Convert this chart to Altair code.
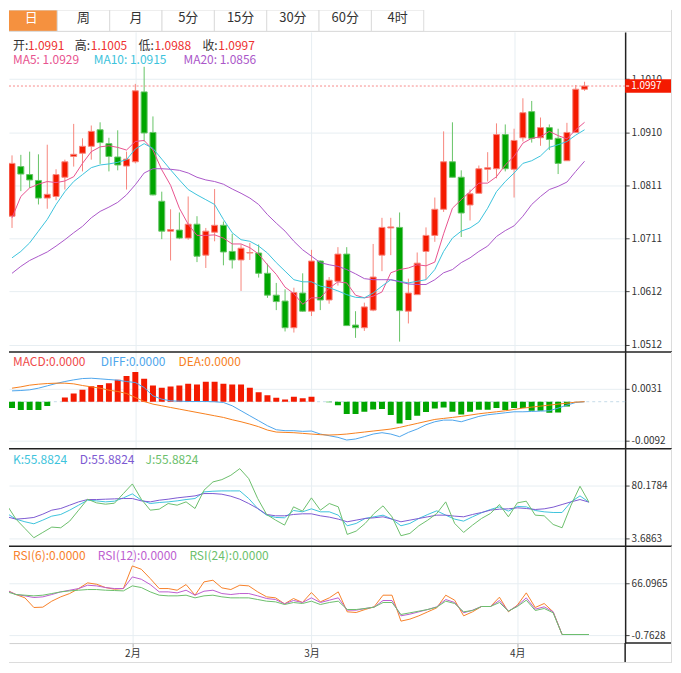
import altair as alt
import pandas as pd

FONT = "Noto Sans CJK SC"

# ---------------- data ----------------
tabs = ["日", "周", "月", "5分", "15分", "30分", "60分", "4时"]
active_tab = "日"

opens = [1.0753, 1.0846, 1.0831, 1.0820, 1.0787, 1.0790, 1.0826, 1.0865, 1.0871, 1.0884,
         1.0915, 1.0889, 1.0864, 1.0847, 1.0855, 1.0986, 1.0910, 1.0781, 1.0725, 1.0727,
         1.0712, 1.0738, 1.0680, 1.0723, 1.0736, 1.0687, 1.0671, 1.0684, 1.0684, 1.0646,
         1.0605, 1.0594, 1.0544, 1.0609, 1.0575, 1.0669, 1.0596, 1.0631, 1.0682, 1.0549,
         1.0544, 1.0577, 1.0680, 1.0731, 1.0732, 1.0575, 1.0606, 1.0687, 1.0717, 1.0766,
         1.0855, 1.0826, 1.0774, 1.0796, 1.0841, 1.0842, 1.0906, 1.0841, 1.0900, 1.0949,
         1.0900, 1.0919, 1.0899, 1.0857, 1.0910, 1.0991]
highs = [1.0867, 1.0868, 1.0874, 1.0869, 1.0887, 1.0841, 1.0859, 1.0926, 1.0899, 1.0923,
         1.0929, 1.0900, 1.0914, 1.0874, 1.1001, 1.1033, 1.0940, 1.0799, 1.0766, 1.0760,
         1.0790, 1.0753, 1.0731, 1.0804, 1.0743, 1.0720, 1.0700, 1.0703, 1.0700, 1.0664,
         1.0628, 1.0616, 1.0619, 1.0646, 1.0690, 1.0670, 1.0639, 1.0695, 1.0695, 1.0575,
         1.0591, 1.0701, 1.0750, 1.0750, 1.0760, 1.0636, 1.0685, 1.0732, 1.0788, 1.0912,
         1.0929, 1.0839, 1.0803, 1.0848, 1.0873, 1.0927, 1.0925, 1.0917, 1.0974, 1.0969,
         1.0938, 1.0925, 1.0917, 1.0928, 1.0999, 1.1005]
lows = [1.0731, 1.0800, 1.0806, 1.0775, 1.0767, 1.0783, 1.0803, 1.0846, 1.0837, 1.0859,
        1.0851, 1.0837, 1.0839, 1.0803, 1.0852, 1.0893, 1.0792, 1.0710, 1.0670, 1.0710,
        1.0709, 1.0667, 1.0656, 1.0706, 1.0661, 1.0655, 1.0613, 1.0671, 1.0638, 1.0600,
        1.0577, 1.0537, 1.0535, 1.0574, 1.0566, 1.0577, 1.0589, 1.0623, 1.0548, 1.0525,
        1.0538, 1.0575, 1.0650, 1.0680, 1.0518, 1.0552, 1.0606, 1.0634, 1.0705, 1.0761,
        1.0826, 1.0714, 1.0745, 1.0796, 1.0818, 1.0824, 1.0837, 1.0788, 1.0893, 1.0891,
        1.0885, 1.0877, 1.0832, 1.0857, 1.0910, 1.0988]
closes = [1.0852, 1.0832, 1.0821, 1.0787, 1.0794, 1.0831, 1.0855, 1.0869, 1.0884, 1.0912,
          1.0891, 1.0865, 1.0849, 1.0860, 1.0988, 1.0909, 1.0793, 1.0725, 1.0728, 1.0712,
          1.0738, 1.0678, 1.0725, 1.0736, 1.0686, 1.0671, 1.0693, 1.0685, 1.0646, 1.0605,
          1.0593, 1.0544, 1.0610, 1.0575, 1.0669, 1.0596, 1.0633, 1.0682, 1.0548, 1.0544,
          1.0583, 1.0639, 1.0732, 1.0733, 1.0576, 1.0609, 1.0665, 1.0717, 1.0766, 1.0855,
          1.0826, 1.0759, 1.0795, 1.0842, 1.0844, 1.0906, 1.0842, 1.0895, 1.0947, 1.0899,
          1.0919, 1.0897, 1.0852, 1.0910, 1.0991, 1.0997]

ma5 = [1.0750, 1.0790, 1.0806, 1.0813, 1.0818, 1.0816, 1.0819, 1.0827, 1.0852, 1.0874,
       1.0883, 1.0885, 1.0882, 1.0877, 1.0893, 1.0895, 1.0877, 1.0840, 1.0811, 1.0768,
       1.0738, 1.0717, 1.0717, 1.0718, 1.0712, 1.0701, 1.0701, 1.0694, 1.0682, 1.0662,
       1.0644, 1.0620, 1.0608, 1.0588, 1.0600, 1.0600, 1.0618, 1.0630, 1.0628, 1.0605,
       1.0600, 1.0603, 1.0611, 1.0647, 1.0653, 1.0656, 1.0662, 1.0660, 1.0667, 1.0720,
       1.0768, 1.0784, 1.0799, 1.0815, 1.0815, 1.0827, 1.0849, 1.0865, 1.0890, 1.0899,
       1.0902, 1.0912, 1.0904, 1.0898, 1.0915, 1.0929]
ma10 = [1.0675, 1.0687, 1.0703, 1.0725, 1.0747, 1.0775, 1.0799, 1.0818, 1.0831, 1.0844,
        1.0849, 1.0851, 1.0854, 1.0859, 1.0879, 1.0889, 1.0880, 1.0860, 1.0840, 1.0821,
        1.0803, 1.0793, 1.0784, 1.0775, 1.0747, 1.0722, 1.0709, 1.0706, 1.0697, 1.0684,
        1.0666, 1.0650, 1.0634, 1.0630, 1.0630, 1.0622, 1.0619, 1.0613, 1.0606, 1.0601,
        1.0600, 1.0609, 1.0622, 1.0634, 1.0631, 1.0628, 1.0631, 1.0634, 1.0653, 1.0687,
        1.0712, 1.0725, 1.0731, 1.0742, 1.0768, 1.0799, 1.0818, 1.0834, 1.0852, 1.0857,
        1.0866, 1.0882, 1.0887, 1.0893, 1.0905, 1.0915]
ma20 = [1.0646, 1.0659, 1.0670, 1.0678, 1.0686, 1.0697, 1.0709, 1.0722, 1.0734, 1.0750,
        1.0762, 1.0770, 1.0779, 1.0793, 1.0812, 1.0834, 1.0842, 1.0842, 1.0841, 1.0839,
        1.0834, 1.0826, 1.0821, 1.0818, 1.0813, 1.0804, 1.0796, 1.0787, 1.0775, 1.0756,
        1.0740, 1.0725, 1.0706, 1.0690, 1.0678, 1.0666, 1.0662, 1.0659, 1.0653, 1.0645,
        1.0636, 1.0634, 1.0634, 1.0634, 1.0630, 1.0626, 1.0625, 1.0625, 1.0634, 1.0647,
        1.0653, 1.0666, 1.0675, 1.0687, 1.0697, 1.0715, 1.0726, 1.0735, 1.0753, 1.0775,
        1.0790, 1.0803, 1.0809, 1.0817, 1.0837, 1.0856]

macd_hist = [-0.00151, -0.00198, -0.00198, -0.00198, -0.00104, 0.0, 0.00100, 0.00194, 0.00280, 0.00366,
             0.00397, 0.00437, 0.00515, 0.00609, 0.00703, 0.00539, 0.00382, 0.00327, 0.00358, 0.00382,
             0.00421, 0.00405, 0.00468, 0.00468, 0.00421, 0.00405, 0.00405, 0.00327, 0.00225, 0.00154,
             0.00092, 0.00053, 0.00115, 0.00084, 0.00115, 0.0, -0.00010, -0.00081, -0.00292, -0.00292,
             -0.00238, -0.00183, -0.00175, -0.00316, -0.00512, -0.00434, -0.00332, -0.00245, -0.00159, -0.00136,
             -0.00238, -0.00300, -0.00238, -0.00190, -0.00190, -0.00151, -0.00198, -0.00151, -0.00151, -0.00214,
             -0.00214, -0.00261, -0.00253, -0.00112, 0.0, 0.0]
diff_vals = [0.00256, 0.00264, 0.00280, 0.00319, 0.00374, 0.00429, 0.00476, 0.00515, 0.00546, 0.00554,
             0.00539, 0.00523, 0.00507, 0.00476, 0.00452, 0.00335, 0.00139, 0.00060, 0.00021, 0.00013,
             0.00005, 0.00005, 0.00005, -0.00002, -0.00018, -0.00096, -0.00214, -0.00332, -0.00449, -0.00567,
             -0.00661, -0.00684, -0.00684, -0.00700, -0.00692, -0.00763, -0.00802, -0.00841, -0.00904, -0.00880,
             -0.00825, -0.00763, -0.00731, -0.00763, -0.00825, -0.00724, -0.00645, -0.00543, -0.00473, -0.00434,
             -0.00434, -0.00473, -0.00410, -0.00347, -0.00308, -0.00285, -0.00261, -0.00238, -0.00238, -0.00230,
             -0.00222, -0.00214, -0.00151, -0.00081, -0.00018, 0.0]
dea_vals = [0.00319, 0.00350, 0.00390, 0.00413, 0.00429, 0.00437, 0.00437, 0.00421, 0.00382, 0.00350,
            0.00319, 0.00272, 0.00241, 0.00194, 0.00100, 0.00005, -0.00057, -0.00096, -0.00136, -0.00175,
            -0.00214, -0.00253, -0.00292, -0.00332, -0.00371, -0.00426, -0.00473, -0.00528, -0.00590, -0.00669,
            -0.00716, -0.00724, -0.00731, -0.00747, -0.00763, -0.00778, -0.00786, -0.00778, -0.00763, -0.00739,
            -0.00716, -0.00692, -0.00669, -0.00645, -0.00606, -0.00559, -0.00512, -0.00465, -0.00418, -0.00394,
            -0.00371, -0.00347, -0.00316, -0.00285, -0.00261, -0.00238, -0.00214, -0.00183, -0.00151, -0.00128,
            -0.00104, -0.00081, -0.00057, -0.00034, -0.00010, 0.0]

k_vals = [39.54, 31.41, 27.59, 24.72, 29.98, 35.72, 38.11, 44.32, 51.49, 58.67,
          57.71, 56.27, 57.23, 62.01, 67.75, 58.67, 53.88, 55.32, 56.27, 57.71,
          59.62, 61.05, 70.62, 71.58, 72.05, 72.05, 72.05, 61.05, 46.71, 37.15,
          33.81, 33.33, 43.84, 41.93, 46.24, 41.93, 41.93, 37.15, 21.85, 25.20,
          32.37, 34.76, 37.15, 31.41, 21.85, 25.20, 32.37, 38.11, 43.37, 37.15,
          31.41, 28.54, 34.76, 40.50, 45.28, 49.11, 42.89, 49.58, 49.11, 43.84,
          41.93, 40.97, 40.97, 56.27, 64.88, 55.88]
d_vals = [34.76, 31.41, 32.37, 33.81, 38.59, 44.32, 46.71, 51.49, 56.27, 59.62,
          59.62, 60.10, 60.58, 61.05, 61.05, 57.71, 56.27, 58.67, 60.10, 62.01,
          63.44, 64.88, 68.22, 68.22, 67.27, 64.40, 60.10, 53.88, 46.71, 38.11,
          36.20, 36.20, 38.11, 39.06, 39.06, 36.20, 34.28, 31.41, 27.59, 29.98,
          32.37, 33.33, 34.76, 31.41, 27.59, 29.98, 32.37, 34.76, 37.15, 37.15,
          35.72, 34.76, 38.11, 40.97, 44.32, 45.76, 46.24, 47.67, 46.71, 45.28,
          46.24, 48.63, 52.46, 56.27, 59.62, 55.88]
j_vals = [51.49, 31.41, 18.03, 4.64, 12.29, 19.94, 18.98, 28.54, 44.32, 60.10,
          54.84, 52.93, 54.36, 68.22, 82.09, 60.10, 44.32, 45.76, 53.88, 51.49,
          56.27, 46.71, 73.01, 84.96, 88.30, 94.55, 104.08, 89.74, 61.05, 38.11,
          29.98, 22.81, 49.11, 42.89, 62.01, 44.32, 53.88, 49.11, 9.42, 14.20,
          25.20, 39.54, 50.54, 34.76, 7.51, 10.86, 21.85, 29.98, 39.54, 56.27,
          25.20, 12.29, 22.81, 32.37, 39.54, 52.46, 34.76, 54.84, 57.23, 37.15,
          36.20, 23.77, 18.98, 51.49, 78.74, 55.88]

rsi6 = [57.47, 51.86, 47.55, 35.04, 35.47, 43.23, 48.84, 53.15, 59.62, 66.96,
        65.23, 60.92, 58.76, 59.62, 88.96, 84.64, 72.57, 59.62, 59.62, 57.47,
        64.80, 51.00, 68.25, 70.41, 60.49, 58.33, 63.94, 63.08, 55.31, 48.84,
        47.55, 39.78, 46.68, 41.51, 54.45, 42.37, 47.55, 55.31, 29.43, 28.57,
        32.45, 35.90, 51.00, 51.00, 17.35, 19.94, 24.25, 29.43, 34.61, 51.00,
        44.53, 24.25, 29.43, 36.33, 36.33, 48.41, 29.43, 38.06, 54.02, 35.04,
        40.21, 29.43, 0.0, 0.0, 0.0, 0.0]
rsi12 = [57.04, 51.86, 50.14, 47.98, 48.84, 51.86, 55.31, 57.47, 59.62, 63.94,
         63.08, 60.92, 59.62, 59.62, 74.72, 71.70, 64.80, 55.31, 55.31, 54.02,
         57.47, 51.00, 56.17, 57.47, 53.15, 51.86, 53.15, 53.15, 50.14, 46.68,
         45.39, 39.78, 44.10, 41.51, 47.55, 41.51, 44.53, 47.55, 31.59, 31.59,
         33.74, 35.47, 44.10, 44.10, 24.25, 26.41, 29.43, 32.45, 35.90, 45.39,
         41.51, 28.14, 31.59, 36.33, 36.33, 44.10, 30.29, 37.19, 47.55, 32.88,
         35.90, 29.43, 0.0, 0.0, 0.0, 0.0]
rsi24 = [55.31, 51.86, 51.00, 50.14, 51.00, 53.15, 55.31, 56.60, 57.47, 58.33,
         58.33, 57.47, 57.04, 56.60, 63.08, 60.92, 55.31, 51.00, 50.14, 50.14,
         51.00, 47.55, 50.14, 51.00, 48.84, 47.55, 47.55, 47.55, 45.39, 43.23,
         42.37, 38.92, 41.51, 40.21, 43.23, 38.92, 41.51, 43.23, 32.45, 32.45,
         33.74, 35.47, 41.51, 41.51, 25.98, 28.14, 30.29, 32.45, 35.47, 43.23,
         40.21, 29.43, 31.15, 36.33, 36.33, 41.51, 30.29, 36.33, 44.53, 31.15,
         33.74, 28.14, 0.0, 0.0, 0.0, 0.0]

month_idx = [14, 34, 57]
month_labels = ["2月", "3月", "4月"]
price_ticks = [1.1010, 1.0910, 1.0811, 1.0711, 1.0612, 1.0512]
macd_ticks = [0.0031, -0.0092]
kdj_ticks = [80.1784, 3.6863]
rsi_ticks = [66.0965, -0.7628]

ohlc_labels = ["开:", "高:", "低:", "收:"]
ohlc_values = ["1.0991", "1.1005", "1.0988", "1.0997"]
last_price = 1.0997
ma_names = ["MA5", "MA10", "MA20"]
ma_last = ["1.0929", "1.0915", "1.0856"]
macd_names = ["MACD", "DIFF", "DEA"]
macd_last = ["0.0000", "0.0000", "0.0000"]
kdj_names = ["K", "D", "J"]
kdj_last = ["55.8824", "55.8824", "55.8824"]
rsi_names = ["RSI(6)", "RSI(12)", "RSI(24)"]
rsi_last = ["0.0000", "0.0000", "0.0000"]

# ---------------- styles / layout ----------------
UP, DN = "#f41a00", "#00a600"
UP_L, DN_L = "#f7867c", "#66c466"
RED_T = "#ee3030"
MA_COLORS = ["#e8538f", "#3cc3dc", "#ab57c9"]
MACD_COLORS = ["#ef4a4a", "#4ea6ec", "#f77f1d"]
KDJ_COLORS = ["#3ec4dc", "#7d5ad2", "#6cbf6c"]
RSI_COLORS = ["#f7812a", "#bd5ed0", "#6cbf6c"]
GRID = "#e7eef2"
BORDER = "#dcdcdc"
DARK = "#222222"
W = 618            # plot width
RIGHT = 665        # whole chart width
H_TAB, H_MAIN, H_MACD, H_KDJ, H_RSI = 22, 321, 97, 98, 97
STEP = 8.98
X_DOMAIN = [2 / STEP, 2 / STEP + W / STEP]
HFS = 12

n = len(closes)
idx = list(range(n))


def txt(s, x, y, color, size=HFS):
    return alt.Chart(pd.DataFrame({"t": [s]})).mark_text(
        align="left", baseline="middle", font=FONT, fontSize=size, color=color
    ).encode(x=alt.value(x), y=alt.value(y), text="t:N")


def rule(x, x2, y, y2, color, width=1.0):
    return alt.Chart(pd.DataFrame({"a": [0]})).mark_rule(color=color, strokeWidth=width).encode(
        x=alt.value(x), x2=alt.value(x2), y=alt.value(y), y2=alt.value(y2))


def xenc(bottom=False):
    if bottom:
        parts = [f"datum.value == {v} ? '{t}'" for v, t in zip(month_idx, month_labels)]
        expr = " : ".join(parts) + " : ''"
        axis = alt.Axis(values=month_idx, labelExpr=expr, grid=True, gridColor=GRID,
                        ticks=True, tickColor="#aaaaaa", tickSize=4, domainColor="#cfcfcf",
                        labelFontSize=10, labelColor="#333333", labelFont=FONT,
                        labelPadding=1, title=None)
    else:
        axis = alt.Axis(values=month_idx, grid=True, gridColor=GRID, labels=False,
                        ticks=False, domain=False, title=None)
    return alt.X("i:Q", scale=alt.Scale(domain=X_DOMAIN, nice=False, zero=False), axis=axis)


def yaxis(values):
    return alt.Axis(orient="right", values=values, grid=True, gridColor=GRID,
                    labelExpr="replace(format(datum.value, '.4f'), '\u2212', '-')",
                    tickColor="#444444", tickSize=4, domainColor=DARK, domainWidth=1.5,
                    labelFontSize=10, labelColor="#333333", labelFont=FONT,
                    labelPadding=2, title=None)


def right_border(h):
    return rule(RIGHT - 0.5, RIGHT - 0.5, 0, h, BORDER)


def header_row(names, values, xs, colors, y, sep=":"):
    return [txt(f"{nm}{sep}{v}", x, y, c) for nm, v, x, c in zip(names, values, xs, colors)]


def series_df(names, arrays):
    rows = {"i": [], "v": [], "s": []}
    for nm, arr in zip(names, arrays):
        rows["i"] += idx
        rows["v"] += list(arr)
        rows["s"] += [nm] * n
    return pd.DataFrame(rows)


# ---------------- tabs ----------------
tab_df = pd.DataFrame({"tab": tabs, "state": ["on" if t == active_tab else "off" for t in tabs]})
tx = alt.X("tab:N", sort=tabs,
           scale=alt.Scale(domain=tabs, range=[-4, 416], paddingInner=0, paddingOuter=0), axis=None)
tab_rect = alt.Chart(tab_df).mark_rect(stroke=BORDER, strokeWidth=1, clip=True).encode(
    x=tx, y=alt.value(0), y2=alt.value(H_TAB - 0.5),
    fill=alt.Fill("state:N", scale=alt.Scale(domain=["on", "off"], range=["#f5913f", "#ffffff"]), legend=None))
tab_text = alt.Chart(tab_df).mark_text(font=FONT, fontSize=13, baseline="middle").encode(
    x=tx, y=alt.value(8.5), text="tab:N",
    color=alt.Color("state:N", scale=alt.Scale(domain=["on", "off"], range=["#ffffff", "#333333"]), legend=None))
tabs_chart = alt.layer(
    tab_rect, tab_text,
    rule(0, RIGHT - 0.5, H_TAB - 0.5, H_TAB - 0.5, BORDER),
    right_border(H_TAB),
).properties(width=420, height=H_TAB).resolve_scale(color="independent", fill="independent")

# ---------------- main (candles) ----------------
YMAIN = alt.Scale(domain=[1.04986, 1.10984], nice=False, zero=False)
AX_MAIN = yaxis(price_ticks)


def ymain(f):
    return alt.Y(f, scale=YMAIN, axis=AX_MAIN)


cdf = pd.DataFrame({"i": idx, "open": opens, "high": highs, "low": lows, "close": closes})
cdf["dir"] = ["up" if c >= o else "down" for o, c in zip(opens, closes)]
stroke_scale = alt.Scale(domain=["up", "down"], range=[UP_L, DN_L])
wick = alt.Chart(cdf).mark_rule(strokeWidth=1, clip=True).encode(
    x=xenc(), y=ymain("low:Q"), y2="high:Q",
    stroke=alt.Stroke("dir:N", scale=stroke_scale, legend=None))
body = alt.Chart(cdf).mark_bar(width=6, strokeWidth=1, clip=True).encode(
    x=xenc(), y=ymain("open:Q"), y2="close:Q",
    fill=alt.Fill("dir:N", scale=alt.Scale(domain=["up", "down"], range=[UP, DN]), legend=None),
    stroke=alt.Stroke("dir:N", scale=stroke_scale, legend=None))
ma_lines = alt.Chart(series_df(ma_names, [ma5, ma10, ma20])).mark_line(strokeWidth=1, clip=True).encode(
    x=xenc(), y=ymain("v:Q"),
    color=alt.Color("s:N", scale=alt.Scale(domain=ma_names, range=MA_COLORS), legend=None))
lp_df = pd.DataFrame({"p": [last_price]})
price_line = alt.Chart(lp_df).mark_rule(strokeDash=[2, 2], color="#f88a8a", strokeWidth=1).encode(y=ymain("p:Q"))
label_box = alt.Chart(lp_df).transform_calculate(top="datum.p + 0.00125", bot="datum.p - 0.00125").mark_rect(
    color=UP).encode(x=alt.value(W), x2=alt.value(RIGHT - 1), y=ymain("top:Q"), y2="bot:Q")
label_tick = alt.Chart(lp_df).mark_rule(color="#ffffff", strokeWidth=1).encode(
    x=alt.value(W + 1), x2=alt.value(W + 4), y=ymain("p:Q"))
label_text = alt.Chart(lp_df).mark_text(align="left", baseline="middle", font=FONT, fontSize=10,
                                        color="#ffffff").encode(
    x=alt.value(W + 6), y=ymain("p:Q"), text=alt.Text("p:Q", format=".4f"))

main_headers = []
for lab, val, lx, vx in zip(ohlc_labels, ohlc_values, [4, 66, 130, 194], [19, 82, 146, 210]):
    main_headers += [txt(lab, lx, 14, "#333333"), txt(val, vx, 14, RED_T)]
main_headers += header_row(ma_names, ma_last, [4, 85, 175], MA_COLORS, 28, sep=": ")

main_chart = alt.layer(
    wick, body, ma_lines, price_line, label_box, label_tick, label_text,
    *main_headers, right_border(H_MAIN)
).properties(width=W, height=H_MAIN).resolve_scale(color="independent", fill="independent",
                                                   stroke="independent")

# ---------------- MACD ----------------
YMACD = alt.Scale(domain=[-0.011077, 0.011736], nice=False, zero=False)
AX_MACD = yaxis(macd_ticks)


def ymacd(f):
    return alt.Y(f, scale=YMACD, axis=AX_MACD)


mdf = pd.DataFrame({"i": idx, "h": macd_hist})
mdf["sign"] = ["pos" if h > 0 else "neg" for h in macd_hist]
hist = alt.Chart(mdf).transform_filter("datum.h != 0").transform_calculate(zero="0").mark_bar(
    width=6, clip=True).encode(
    x=xenc(), y=ymacd("h:Q"), y2="zero:Q",
    fill=alt.Fill("sign:N", scale=alt.Scale(domain=["pos", "neg"], range=[UP, DN]), legend=None))
zero_line = alt.Chart(pd.DataFrame({"z": [0.0]})).mark_rule(strokeDash=[3, 3], color="#c5dbe8").encode(
    y=ymacd("z:Q"))
macd_lines = alt.Chart(series_df(["DIFF", "DEA"], [diff_vals, dea_vals])).mark_line(
    strokeWidth=1, clip=True).encode(
    x=xenc(), y=ymacd("v:Q"),
    stroke=alt.Stroke("s:N", scale=alt.Scale(domain=["DIFF", "DEA"], range=MACD_COLORS[1:]), legend=None))
macd_chart = alt.layer(
    zero_line, hist, macd_lines,
    *header_row(macd_names, macd_last, [4, 92, 170], MACD_COLORS, 10),
    rule(0, RIGHT, 0, 0, DARK, 1.5), right_border(H_MACD)
).properties(width=W, height=H_MACD).resolve_scale(fill="independent", stroke="independent")

# ---------------- KDJ ----------------
YKDJ = alt.Scale(domain=[-7.80, 132.85], nice=False, zero=False)
kdj_lines = alt.Chart(series_df(kdj_names, [k_vals, d_vals, j_vals])).mark_line(
    strokeWidth=1, clip=True).encode(
    x=xenc(), y=alt.Y("v:Q", scale=YKDJ, axis=yaxis(kdj_ticks)),
    stroke=alt.Stroke("s:N", scale=alt.Scale(domain=kdj_names, range=KDJ_COLORS), legend=None))
kdj_chart = alt.layer(
    kdj_lines,
    *header_row(kdj_names, kdj_last, [4, 71, 137], KDJ_COLORS, 11),
    rule(0, RIGHT, 0, 0, DARK, 1.5), right_border(H_KDJ)
).properties(width=W, height=H_KDJ)

# ---------------- RSI ----------------
YRSI = alt.Scale(domain=[-11.11, 114.33], nice=False, zero=False)
rsi_lines = alt.Chart(series_df(rsi_names, [rsi6, rsi12, rsi24])).mark_line(
    strokeWidth=1, clip=True).encode(
    x=xenc(bottom=True), y=alt.Y("v:Q", scale=YRSI, axis=yaxis(rsi_ticks)),
    stroke=alt.Stroke("s:N", scale=alt.Scale(domain=rsi_names, range=RSI_COLORS), legend=None))
BOT = H_RSI + 20
rsi_chart = alt.layer(
    rsi_lines,
    *header_row(rsi_names, rsi_last, [4, 89, 181], RSI_COLORS, 10),
    rule(0, RIGHT, 0, 0, DARK, 1.5),
    rule(W, RIGHT, H_RSI, H_RSI, DARK, 1.5),
    rule(W, W, H_RSI, BOT, DARK, 1.5),
    rule(0, RIGHT - 0.5, BOT - 0.5, BOT - 0.5, BORDER),
    right_border(BOT)
).properties(width=W, height=H_RSI)

chart = alt.vconcat(
    tabs_chart, main_chart, macd_chart, kdj_chart, rsi_chart,
    spacing=0, bounds="flush"
).resolve_scale(x="independent", y="independent", color="independent",
                fill="independent", stroke="independent").properties(
    padding={"left": 0, "top": 0, "right": 0, "bottom": 0}
).configure_view(strokeWidth=0)

chart.save("out.html", embed_options={"renderer": "svg", "actions": False})
